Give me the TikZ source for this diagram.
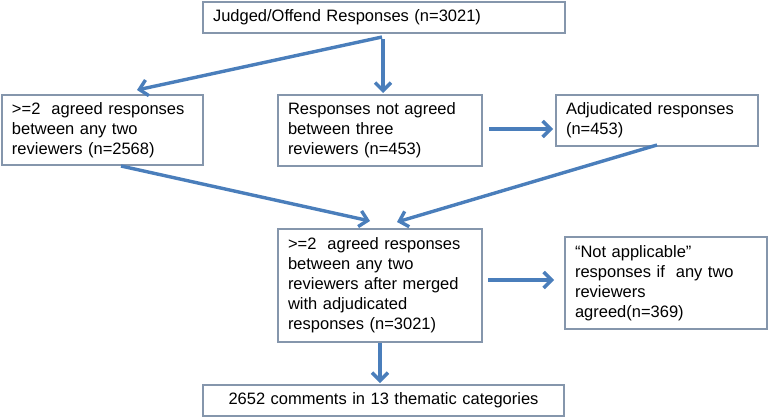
\documentclass[tikz,border=0pt]{standalone}
\usepackage{fontspec}
\setmainfont{Liberation Sans}
\usetikzlibrary{arrows.meta}
\definecolor{boxc}{HTML}{8596AC}
\definecolor{arrc}{HTML}{4A7EBB}
\tikzset{
  fbox/.style={draw=boxc, line width=1.1pt, inner sep=0pt, outer sep=0pt, anchor=north west,
    font=\fontsize{16.5}{20}\selectfont},
  flow/.style={draw=arrc, line width=3.4pt, -{Straight Barb[length=8pt,width=16pt,line width=3.4pt]}},
}
\newcommand{\fb}[7]{% name, x1,y1,x2,y2, align, text
  \node[fbox, minimum width={(#4-#2)*1pt}, minimum height={(#5-#3)*1pt}] (#1) at (#2,#3) {};
  \node[font=\fontsize{16.5}{20}\selectfont, text width={(#4-#2-20)*1pt}, align=#6, inner sep=0pt] (#1t) at (#1.center) {#7};
}
\begin{document}
\begin{tikzpicture}[x=1pt,y=-1pt]
\useasboundingbox (0,0) rectangle (768,418);
\fb{A}{203}{2}{565}{33}{left}{Judged/Offend Responses (n=3021)}
\fb{B}{2}{95}{203}{165}{left}{>=2\ \ agreed responses\\between any two\\reviewers (n=2568)}
\fb{C}{278}{95}{482}{166}{left}{Responses not agreed\\between three\\reviewers (n=453)}
\fb{D}{556}{95}{758}{146}{left}{Adjudicated responses\\(n=453)}
\fb{E}{278}{229}{482}{342}{left}{>=2\ \ agreed responses\\between any two\\reviewers after merged\\with adjudicated\\responses (n=3021)}
\fb{F}{565}{237}{767}{329}{left}{“Not applicable”\\responses if\ \ any two\\reviewers\\agreed(n=369)}
\fb{G}{203}{385}{564}{416}{center}{2652 comments in 13 thematic categories}
\draw[flow] ([xshift=-2pt,yshift=-4pt]A.south) -- ([xshift=34.5pt,yshift=5pt]B.north);
\draw[flow] ([xshift=-1pt,yshift=-6pt]A.south) -- ([xshift=3pt,yshift=2pt]C.north);
\draw[flow] ([xshift=7pt,yshift=1.5pt]C.east) -- ([xshift=-3pt,yshift=-8.5pt]D.west);
\draw[flow] ([xshift=18.5pt,yshift=-1pt]B.south) -- ([xshift=-10pt,yshift=8pt]E.north);
\draw[flow] ([yshift=1pt]D.south) -- ([xshift=17pt,yshift=7pt]E.north);
\draw[flow] ([xshift=6pt,yshift=5.5pt]E.east) -- ([xshift=-11pt,yshift=3pt]F.west);
\draw[flow] ([yshift=-1pt]E.south) -- ([xshift=-3.5pt,yshift=2pt]G.north);
\end{tikzpicture}
\end{document}
